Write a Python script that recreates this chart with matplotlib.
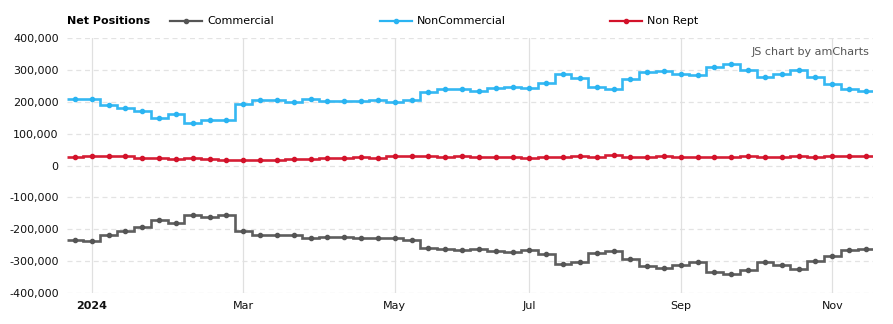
import numpy as np
import pandas as pd
import matplotlib
matplotlib.use("Agg")
import matplotlib.pyplot as plt
from matplotlib.lines import Line2D
from matplotlib.ticker import FuncFormatter

# weekly report dates (Tuesdays)
dates = pd.date_range("2023-12-26", periods=48, freq="7D")

commercial = [-233, -237, -217, -207, -192, -170, -180, -154, -160, -156,
              -207, -217, -217, -217, -226, -223, -223, -226, -226, -226,
              -233, -258, -261, -264, -261, -267, -270, -264, -279, -308,
              -302, -274, -267, -293, -315, -321, -312, -304, -333, -340,
              -327, -304, -312, -324, -301, -283, -264, -261]
noncommercial = [209, 209, 190, 181, 172, 150, 161, 133, 143, 143,
                 193, 204, 204, 200, 210, 203, 203, 203, 207, 200,
                 207, 232, 239, 239, 235, 244, 247, 244, 258, 286,
                 276, 247, 241, 270, 293, 296, 288, 285, 310, 317,
                 301, 279, 288, 299, 279, 257, 240, 235]
nonrept = [26, 31, 30, 30, 23, 23, 20, 24, 20, 16,
           16, 16, 16, 20, 20, 24, 23, 27, 23, 30,
           30, 30, 27, 30, 27, 27, 27, 23, 27, 27,
           30, 27, 34, 26, 26, 29, 26, 26, 26, 26,
           29, 26, 26, 29, 26, 29, 30, 30]

series_names = ["Commercial", "NonCommercial", "Non Rept"]
series_colors = ["#555555", "#2ab4f2", "#d3122a"]
label_months = [1, 3, 5, 7, 9, 11]

W, H = 893, 324
fig = plt.figure(figsize=(W / 100, H / 100), dpi=100)
ax = fig.add_axes([67 / W, (H - 293) / H, (873 - 67) / W, (293 - 38) / H])

x = np.arange(len(dates))
edges = np.arange(len(dates) + 1) - 0.5
for vals, col in zip([commercial, noncommercial, nonrept], series_colors):
    v = np.array(vals) * 1000
    ax.stairs(v, edges, baseline=None, color=col, lw=1.9, alpha=0.95, zorder=3)
    ax.plot(x, v, "o", color=col, ms=3.0, zorder=4)

ax.set_xlim(-0.475, len(dates) - 0.58)
ax.set_ylim(-400000, 400000)
ax.set_yticks(np.arange(-400000, 400001, 100000))
ax.yaxis.set_major_formatter(FuncFormatter(lambda v, p: f"{int(v):,}"))

# first report of every second month gets a grid line
tick_pos, tick_lab = [], []
for m in label_months:
    idx = int(np.where((dates.year == 2024) & (dates.month == m))[0][0])
    tick_pos.append(idx)
    tick_lab.append("2024" if m == 1 else dates[idx].strftime("%b"))
ax.set_xticks(tick_pos)
ax.set_xticklabels(tick_lab)
ax.get_xticklabels()[0].set_fontweight("bold")

for s in ax.spines.values():
    s.set_visible(False)
ax.tick_params(length=0, labelsize=8, colors="#111111")
ax.tick_params(axis="y", pad=6)
ax.tick_params(axis="x", pad=6)
for yv in ax.get_yticks():
    ax.axhline(yv, color="#e3e3e3", lw=0.9, ls=(0, (4, 3)), zorder=1)
for xv in tick_pos:
    ax.axvline(xv, color="#e0e0e0", lw=0.9, zorder=1)

ax.text(0.996, 0.945, "JS chart by amCharts", transform=ax.transAxes,
        ha="right", va="center", fontsize=8, color="#555555")

# legend row
fig.text(67 / W, 1 - 21 / H, "Net Positions", fontsize=8, fontweight="bold",
         va="center", ha="left")
for name, col, x0 in zip(series_names, series_colors, [170, 380, 610]):
    fig.add_artist(Line2D([x0 / W, (x0 + 32) / W], [1 - 21 / H] * 2,
                          color=col, lw=1.6, transform=fig.transFigure))
    fig.add_artist(Line2D([(x0 + 16) / W], [1 - 21 / H], marker="o", ms=3.0,
                          color=col, transform=fig.transFigure))
    fig.text((x0 + 37) / W, 1 - 21 / H, name, fontsize=8, va="center", ha="left")

fig.savefig("out.png", dpi=100)
